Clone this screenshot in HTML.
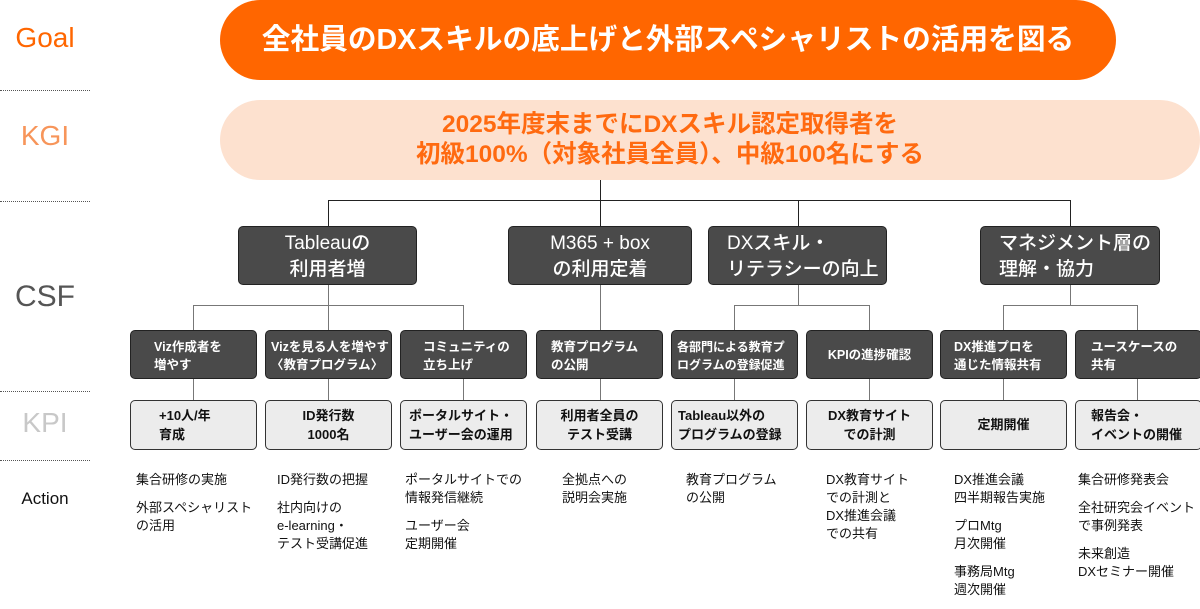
<!DOCTYPE html>
<html><head><meta charset="utf-8"><style>
*{margin:0;padding:0;box-sizing:border-box}
body{width:1200px;height:600px;background:#fff;position:relative;overflow:hidden;font-family:"Liberation Sans","Noto Sans CJK JP",sans-serif}
.a{position:absolute}
.lab{position:absolute;left:0;width:90px;text-align:center}
.dot{position:absolute;left:0;width:90px;border-top:1px dotted #555}
.h{position:absolute;height:0;border-top:1.5px solid #777}
.v{position:absolute;width:0;border-left:1.5px solid #777}
.csf{position:absolute;top:226px;height:59px;background:#4a4a4a;border:1px solid #222;border-radius:5px;color:#fff;font-size:19px;line-height:26px;padding-top:4px;font-weight:500}
.sb{position:absolute;top:330px;width:127px;height:49px;background:#4a4a4a;border:1px solid #222;border-radius:5px;color:#fff;font-size:12.5px;font-weight:bold;line-height:18px;padding:7px 0 0 0}
.kp{position:absolute;top:400px;width:127px;height:50px;background:#ececec;border:1px solid #333;border-radius:5px;color:#111;font-size:13px;font-weight:bold;line-height:19px;padding-top:5px}
.ac{position:absolute;font-size:13px;line-height:18px;color:#111}
.ac p{margin-bottom:10px}
</style></head><body>
<div class="lab" style="top:22px;font-size:28px;color:#ff6600">Goal</div>
<div class="lab" style="top:120px;font-size:28px;color:#f7955a">KGI</div>
<div class="lab" style="top:280px;font-size:30px;color:#555">CSF</div>
<div class="lab" style="top:407px;font-size:28px;color:#c8c8c8">KPI</div>
<div class="lab" style="top:489px;font-size:17px;color:#111">Action</div>
<div class="dot" style="top:90px"></div>
<div class="dot" style="top:201px"></div>
<div class="dot" style="top:391px"></div>
<div class="dot" style="top:460px"></div>

<div class="a" style="left:220px;top:0;width:896px;height:80px;border-radius:40px;background:#ff6600;color:#fff;font-size:28.7px;font-weight:bold;text-align:center;line-height:80px">全社員のDXスキルの底上げと外部スペシャリストの活用を図る</div>
<div class="a" style="left:220px;top:100px;width:980px;height:80px;border-radius:40px;background:#fde1cf"></div>
<div class="a" style="left:220px;top:100px;width:900px;height:80px;color:#ff6a10;font-size:24.5px;font-weight:bold;text-align:center;line-height:30px;padding-top:10px">2025年度末までにDXスキル認定取得者を<br>初級100%（対象社員全員）、中級100名にする</div>

<div class="v" style="left:600px;top:180px;height:20px;border-color:#222"></div>
<div class="h" style="left:328px;top:200px;width:743px;border-color:#222"></div>
<div class="v" style="left:328px;top:200px;height:26px;border-color:#222"></div>
<div class="v" style="left:600px;top:200px;height:26px;border-color:#222"></div>
<div class="v" style="left:798px;top:200px;height:26px;border-color:#222"></div>
<div class="v" style="left:1070px;top:200px;height:26px;border-color:#222"></div>

<div class="csf" style="left:238px;width:179px;text-align:center">Tableauの<br>利用者増</div>
<div class="csf" style="left:508px;width:184px;text-align:center">M365 + box<br>の利用定着</div>
<div class="csf" style="left:708px;width:179px;padding-left:18px">DXスキル・<br>リテラシーの向上</div>
<div class="csf" style="left:980px;width:180px;padding-left:18px">マネジメント層の<br>理解・協力</div>

<div class="v" style="left:328px;top:285px;height:20px"></div>
<div class="h" style="left:193px;top:305px;width:271px"></div>
<div class="v" style="left:193px;top:305px;height:25px"></div>
<div class="v" style="left:328px;top:305px;height:25px"></div>
<div class="v" style="left:463px;top:305px;height:25px"></div>
<div class="v" style="left:600px;top:285px;height:45px"></div>
<div class="v" style="left:798px;top:285px;height:20px"></div>
<div class="h" style="left:734px;top:305px;width:136px"></div>
<div class="v" style="left:734px;top:305px;height:25px"></div>
<div class="v" style="left:869px;top:305px;height:25px"></div>
<div class="v" style="left:1070px;top:285px;height:20px"></div>
<div class="h" style="left:1003px;top:305px;width:135px"></div>
<div class="v" style="left:1003px;top:305px;height:25px"></div>
<div class="v" style="left:1137px;top:305px;height:25px"></div>

<div class="v" style="left:193px;top:379px;height:21px"></div>
<div class="v" style="left:328px;top:379px;height:21px"></div>
<div class="v" style="left:463px;top:379px;height:21px"></div>
<div class="v" style="left:600px;top:379px;height:21px"></div>
<div class="v" style="left:734px;top:379px;height:21px"></div>
<div class="v" style="left:869px;top:379px;height:21px"></div>
<div class="v" style="left:1003px;top:379px;height:21px"></div>
<div class="v" style="left:1137px;top:379px;height:21px"></div>

<div class="sb" style="left:130px;padding-left:23px">Viz作成者を<br>増やす</div>
<div class="sb" style="left:265px;padding-left:5px">Vizを見る人を増やす<br>〈教育プログラム〉</div>
<div class="sb" style="left:400px;padding-left:22px">コミュニティの<br>立ち上げ</div>
<div class="sb" style="left:536px;padding-left:14px">教育プログラム<br>の公開</div>
<div class="sb" style="left:671px;padding-left:5px;font-size:12px">各部門による教育プ<br>ログラムの登録促進</div>
<div class="sb" style="left:806px;text-align:center;line-height:44px;padding-top:2px">KPIの進捗確認</div>
<div class="sb" style="left:940px;padding-left:13px">DX推進プロを<br>通じた情報共有</div>
<div class="sb" style="left:1075px;padding-left:15px">ユースケースの<br>共有</div>

<div class="kp" style="left:130px;padding-left:28px">+10人/年<br>育成</div>
<div class="kp" style="left:265px;text-align:center">ID発行数<br>1000名</div>
<div class="kp" style="left:400px;padding-left:8px">ポータルサイト・<br>ユーザー会の運用</div>
<div class="kp" style="left:536px;text-align:center">利用者全員の<br>テスト受講</div>
<div class="kp" style="left:671px;padding-left:6px">Tableau以外の<br>プログラムの登録</div>
<div class="kp" style="left:806px;text-align:center">DX教育サイト<br>での計測</div>
<div class="kp" style="left:940px;text-align:center;line-height:38px">定期開催</div>
<div class="kp" style="left:1075px;padding-left:15px">報告会・<br>イベントの開催</div>

<div class="ac" style="left:136px;top:471px"><p>集合研修の実施</p><p>外部スペシャリスト<br>の活用</p></div>
<div class="ac" style="left:277px;top:471px"><p>ID発行数の把握</p><p>社内向けの<br>e-learning・<br>テスト受講促進</p></div>
<div class="ac" style="left:405px;top:471px"><p>ポータルサイトでの<br>情報発信継続</p><p>ユーザー会<br>定期開催</p></div>
<div class="ac" style="left:562px;top:471px"><p>全拠点への<br>説明会実施</p></div>
<div class="ac" style="left:686px;top:471px"><p>教育プログラム<br>の公開</p></div>
<div class="ac" style="left:826px;top:471px"><p>DX教育サイト<br>での計測と<br>DX推進会議<br>での共有</p></div>
<div class="ac" style="left:954px;top:471px"><p>DX推進会議<br>四半期報告実施</p><p>プロMtg<br>月次開催</p><p>事務局Mtg<br>週次開催</p></div>
<div class="ac" style="left:1078px;top:471px"><p>集合研修発表会</p><p>全社研究会イベント<br>で事例発表</p><p>未来創造<br>DXセミナー開催</p></div>
</body></html>
